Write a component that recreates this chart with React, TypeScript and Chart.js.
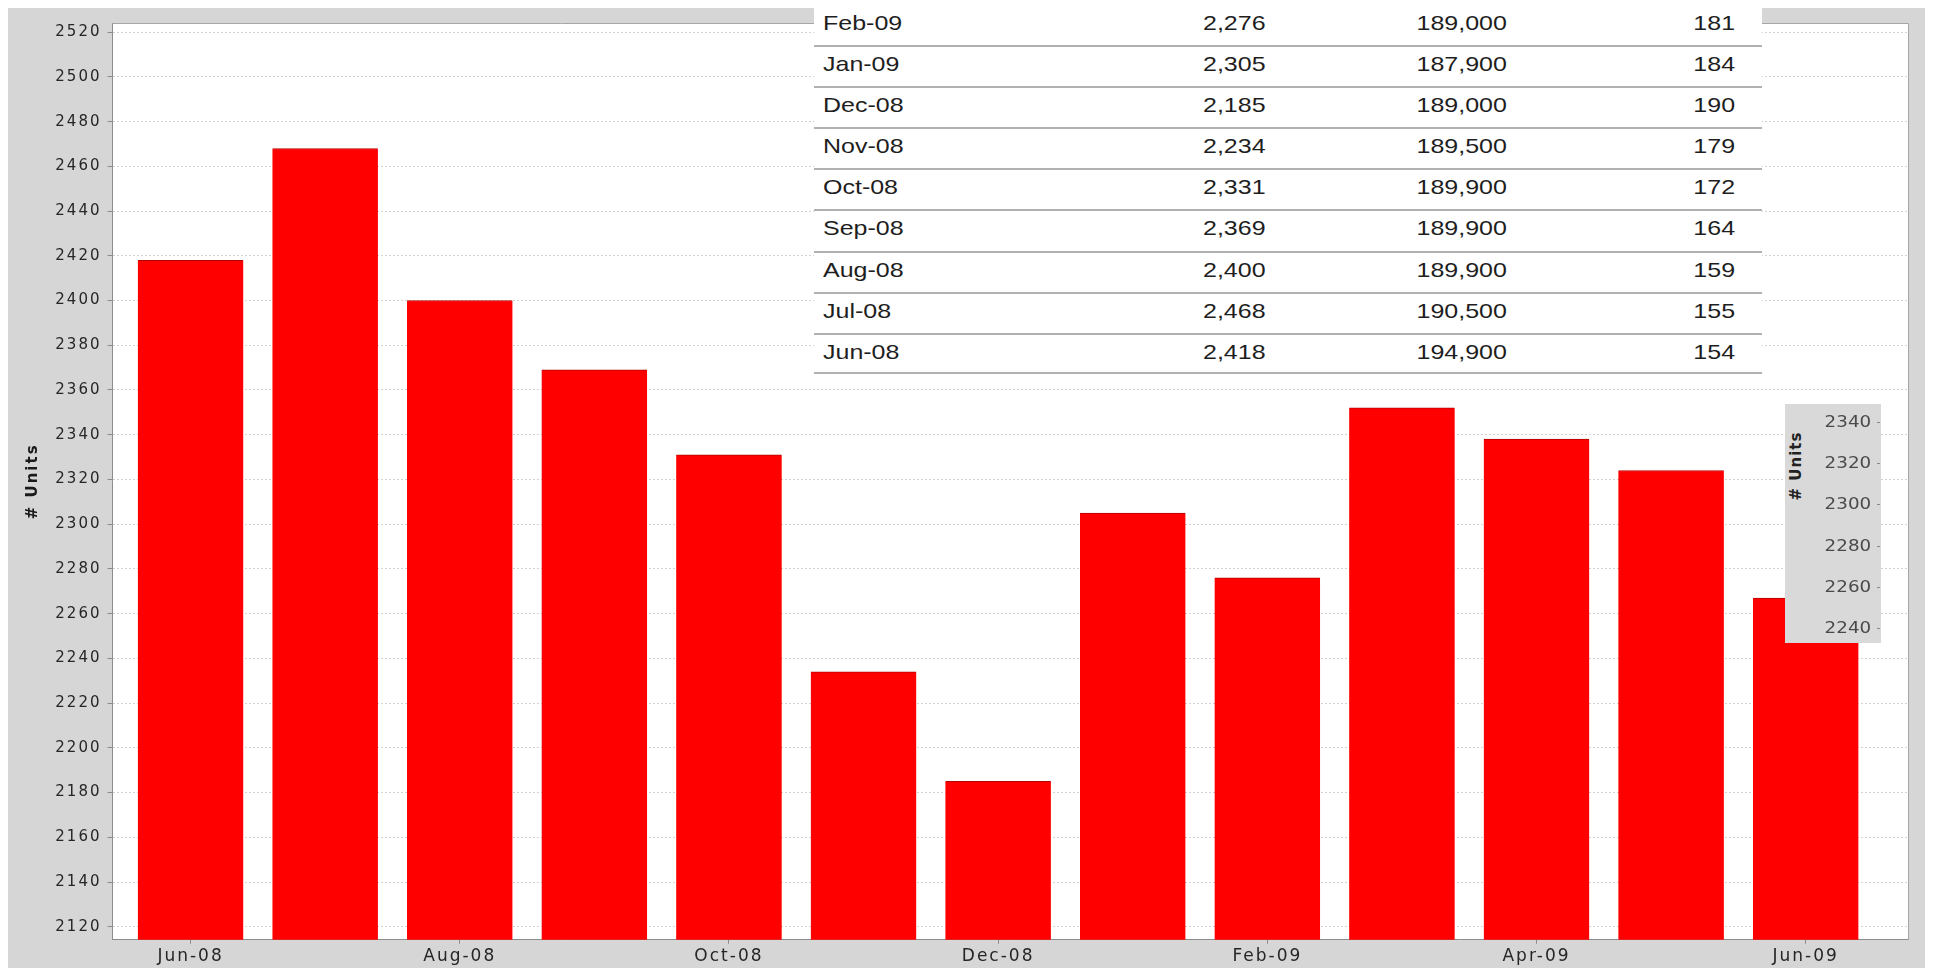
import React, { useEffect, useRef } from "react";
import { Chart, registerables } from "chart.js";

Chart.register(...registerables);

// ---- chart data ----
const MONTHS = [
  "Jun-08", "Jul-08", "Aug-08", "Sep-08", "Oct-08", "Nov-08", "Dec-08",
  "Jan-09", "Feb-09", "Mar-09", "Apr-09", "May-09", "Jun-09",
];
const UNITS = [2418, 2468, 2400, 2369, 2331, 2234, 2185, 2305, 2276, 2352, 2338, 2324, 2267];
const Y_TICKS = [2120, 2140, 2160, 2180, 2200, 2220, 2240, 2260, 2280, 2300, 2320, 2340, 2360, 2380, 2400, 2420, 2440, 2460, 2480, 2500, 2520];
const X_TICK_INDEXES = [0, 2, 4, 6, 8, 10, 12];
const Y_TITLE = "# Units";

// ---- overlaid table data ----
const TABLE_MONTHS = ["Feb-09", "Jan-09", "Dec-08", "Nov-08", "Oct-08", "Sep-08", "Aug-08", "Jul-08", "Jun-08"];
const TABLE_UNITS = [2276, 2305, 2185, 2234, 2331, 2369, 2400, 2468, 2418];
const TABLE_PRICES = [189000, 187900, 189000, 189500, 189900, 189900, 189900, 190500, 194900];
const TABLE_DAYS = [181, 184, 190, 179, 172, 164, 159, 155, 154];

// ---- inset axis fragment ----
const INSET_TICKS = [2340, 2320, 2300, 2280, 2260, 2240];

const Y_MIN = 2114.2;
const Y_MAX = 2524.1;
const X_MIN = -0.58;
const X_MAX = 12.76;

const fmt = (n: number) => n.toLocaleString("en-US");

const plotPlugin = {
  id: "plotFrame",
  beforeUpdate(chart: any) {
    chart.ctx.letterSpacing = "2px";
  },
  beforeDraw(chart: any) {
    const { ctx, chartArea: a } = chart;
    ctx.save();
    ctx.fillStyle = "#ffffff";
    ctx.fillRect(a.left, a.top, a.right - a.left, a.bottom - a.top);
    ctx.restore();
    ctx.letterSpacing = "2px";
  },
  afterDatasetsDraw(chart: any) {
    const { ctx, chartArea: a } = chart;
    ctx.save();
    ctx.strokeStyle = "#a6a6a6";
    ctx.lineWidth = 1;
    ctx.beginPath();
    ctx.moveTo(a.left, a.top + 0.5);
    ctx.lineTo(a.right + 0.5, a.top + 0.5);
    ctx.lineTo(a.right + 0.5, a.bottom);
    ctx.stroke();
    ctx.restore();
  },
};

function ChartCanvas() {
  const ref = useRef<HTMLCanvasElement | null>(null);
  useEffect(() => {
    if (!ref.current) return;
    const chart = new Chart(ref.current, {
      type: "bar",
      data: {
        datasets: [
          {
            label: "Units",
            data: UNITS.map((v, i) => ({ x: i, y: v })),
            backgroundColor: "#ff0000",
            borderColor: "#b30000",
            borderWidth: { top: 1, left: 0, right: 0, bottom: 0 },
            borderSkipped: "start",
            barThickness: 105.5,
          } as any,
        ],
      },
      options: {
        responsive: false,
        animation: false,
        layout: { padding: { left: 0, top: 12, right: 19, bottom: 0 } },
        plugins: {
          legend: { display: false },
          tooltip: { enabled: false },
          title: { display: false },
        },
        scales: {
          x: {
            type: "linear",
            min: X_MIN,
            max: X_MAX,
            offset: false,
            afterBuildTicks: (axis: any) => {
              axis.ticks = X_TICK_INDEXES.map((v) => ({ value: v }));
            },
            afterFit: (scale: any) => {
              scale.height = 28.3;
            },
            grid: {
              display: true,
              drawOnChartArea: false,
              drawTicks: true,
              tickLength: 4,
              tickColor: "#8a8a8a",
              offset: false,
            },
            border: { display: true, color: "#8c8c8c", width: 1 },
            ticks: {
              autoSkip: false,
              maxRotation: 0,
              padding: 3,
              color: "#262626",
              font: { family: "DejaVu Sans", size: 17 },
              callback: (v: any) => MONTHS[Number(v)] ?? "",
            },
          },
          y: {
            type: "linear",
            min: Y_MIN,
            max: Y_MAX,
            afterBuildTicks: (axis: any) => {
              axis.ticks = Y_TICKS.map((v) => ({ value: v }));
            },
            afterFit: (scale: any) => {
              scale.width = 104.5;
            },
            grid: {
              display: true,
              drawOnChartArea: true,
              drawTicks: true,
              tickLength: 5,
              tickColor: "#8a8a8a",
              color: "#d2d2d2",
              lineWidth: 1,
            },
            border: { display: true, color: "#8c8c8c", width: 1, dash: [2, 2] },
            title: {
              display: true,
              text: Y_TITLE,
              color: "#1a1a1a",
              font: { family: "DejaVu Sans", size: 15, weight: "bold" },
              padding: { top: 16, bottom: 0 },
            },
            ticks: {
              padding: 6,
              color: "#262626",
              font: { family: "DejaVu Sans", size: 15 },
              callback: (v: any) => String(v),
            },
          },
        },
      },
      plugins: [plotPlugin],
    } as any);
    return () => chart.destroy();
  }, []);
  return <canvas ref={ref} width={1919} height={960} style={{ display: "block" }} />;
}

const ROW_H = 41.1;
const cellBase: React.CSSProperties = {
  position: "absolute",
  top: 0,
  lineHeight: "33px",
  fontSize: 21,
  fontFamily: '"Liberation Sans", Arial, sans-serif',
  color: "#1e1e1e",
  whiteSpace: "nowrap",
};

function DataTable() {
  return (
    <div
      style={{
        position: "absolute",
        left: 814 - 8,
        top: -8,
        width: 948,
        paddingTop: 4,
        paddingBottom: 4,
        background: "#ffffff",
      }}
    >
      {TABLE_MONTHS.map((m, i) => (
        <div
          key={m}
          style={{
            position: "relative",
            height: ROW_H,
            boxSizing: "border-box",
            borderTop: "2px solid #b1b1b1",
            borderBottom: i === TABLE_MONTHS.length - 1 ? "2px solid #b1b1b1" : undefined,
          }}
        >
          <span style={{ ...cellBase, left: 8.7, transform: "scaleX(1.19)", transformOrigin: "left center" }}>{m}</span>
          <span style={{ ...cellBase, right: 948 - 451.6, transform: "scaleX(1.19)", transformOrigin: "right center" }}>
            {fmt(TABLE_UNITS[i])}
          </span>
          <span style={{ ...cellBase, right: 948 - 692.6, transform: "scaleX(1.19)", transformOrigin: "right center" }}>
            {fmt(TABLE_PRICES[i])}
          </span>
          <span style={{ ...cellBase, right: 948 - 921, transform: "scaleX(1.19)", transformOrigin: "right center" }}>
            {fmt(TABLE_DAYS[i])}
          </span>
        </div>
      ))}
    </div>
  );
}

function InsetAxis() {
  return (
    <div
      style={{
        position: "absolute",
        left: 1785 - 8,
        top: 404 - 8,
        width: 96,
        height: 239,
        background: "#d9d9d9",
        fontFamily: '"DejaVu Sans", sans-serif',
      }}
    >
      <div
        style={{
          position: "absolute",
          left: 11,
          top: 62,
          transform: "translate(-50%, -50%) rotate(-90deg)",
          fontSize: 15,
          fontWeight: "bold",
          color: "#222",
          whiteSpace: "nowrap",
          letterSpacing: "1px",
        }}
      >
        {Y_TITLE}
      </div>
      {INSET_TICKS.map((t, k) => (
        <React.Fragment key={t}>
          <div
            style={{
              position: "absolute",
              right: 96 - 86,
              top: 17.7 + 41.3 * k - 10,
              height: 20,
              lineHeight: "20px",
              fontSize: 15,
              color: "#4a4a4a",
              whiteSpace: "nowrap",
              transform: "scaleX(1.22)",
              transformOrigin: "right center",
              filter: "blur(0.4px)",
            }}
          >
            {t}
          </div>
          <div
            style={{
              position: "absolute",
              left: 92,
              top: 17.7 + 41.3 * k,
              width: 3,
              height: 1,
              background: "#8a8a8a",
            }}
          />
        </React.Fragment>
      ))}
    </div>
  );
}

export default function App() {
  return (
    <div style={{ position: "relative", width: 1919, height: 960, background: "#d6d6d6" }}>
      <style>{`html,body{overflow:hidden}`}</style>
      <ChartCanvas />
      <DataTable />
      <InsetAxis />
    </div>
  );
}
